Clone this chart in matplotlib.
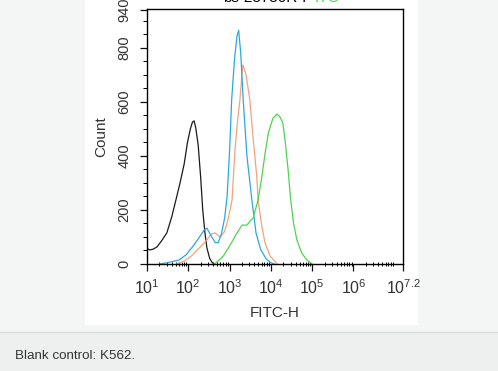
import numpy as np
import matplotlib
matplotlib.use("Agg")
import matplotlib.pyplot as plt
from matplotlib.patches import Rectangle
from matplotlib.ticker import LogLocator, MultipleLocator, NullFormatter

plt.rcParams['font.family'] = ['Liberation Sans', 'DejaVu Sans']

# histogram outlines: x as log10(FITC-H), y as count
black_logx = [1.0, 1.07, 1.15, 1.24, 1.35, 1.48, 1.6, 1.7, 1.8, 1.9, 1.98, 2.05, 2.1, 2.14, 2.18, 2.24, 2.3, 2.35, 2.4, 2.45, 2.52, 2.58, 2.63]
black_cnt = [57, 52, 55, 63, 85, 115, 175, 237, 300, 370, 450, 500, 525, 530, 505, 440, 320, 200, 120, 60, 20, 5, 0]

blue_logx = [1.3, 1.5, 1.78, 1.95, 2.1, 2.25, 2.38, 2.45, 2.55, 2.65, 2.72, 2.8, 2.88, 2.94, 3.0, 3.05, 3.12, 3.18, 3.22, 3.27, 3.33, 3.42, 3.54, 3.64, 3.75, 3.88, 4.0, 4.08]
blue_cnt = [0, 5, 15, 35, 63, 95, 125, 133, 105, 80, 78, 110, 170, 250, 420, 607, 760, 845, 865, 780, 607, 400, 237, 115, 55, 20, 5, 0]

orange_logx = [1.72, 1.9, 2.1, 2.3, 2.45, 2.55, 2.65, 2.77, 2.88, 2.96, 3.06, 3.13, 3.2, 3.25, 3.32, 3.4, 3.49, 3.58, 3.66, 3.69, 3.78, 3.86, 3.98, 4.15]
orange_cnt = [0, 10, 33, 65, 89, 110, 115, 100, 120, 163, 237, 422, 540, 607, 737, 700, 607, 450, 322, 237, 140, 78, 30, 0]

green_logx = [2.63, 2.75, 2.85, 2.94, 3.05, 3.18, 3.3, 3.42, 3.5, 3.57, 3.69, 3.78, 3.86, 3.94, 4.05, 4.15, 4.22, 4.29, 4.35, 4.41, 4.48, 4.55, 4.63, 4.75, 4.87, 5.0]
green_cnt = [0, 15, 30, 52, 80, 115, 144, 144, 160, 170, 237, 322, 410, 485, 540, 555, 545, 522, 450, 360, 237, 150, 89, 40, 15, 0]

ytick_vals = [0, 200, 400, 600, 800, 940]
xtick_exp = [1, 2, 3, 4, 5, 6, 7.2]
xtick_labels = [r'$10^{1}$', r'$10^{2}$', r'$10^{3}$', r'$10^{4}$', r'$10^{5}$', r'$10^{6}$', r'$10^{7.2}$']

fig = plt.figure(figsize=(4.98, 3.71), dpi=100)
fig.patch.set_facecolor('#f4f6f6')
plt.rcParams['mathtext.fontset'] = 'custom'
plt.rcParams['mathtext.rm'] = 'Liberation Sans'
plt.rcParams['mathtext.it'] = 'Liberation Sans'

# white panel and caption band
fig.add_artist(Rectangle((85/498, 1-325/371), 333/498, 325/371, transform=fig.transFigure,
                         facecolor='white', edgecolor='none', zorder=0))
fig.add_artist(Rectangle((0, 0), 1, 39/371, transform=fig.transFigure,
                         facecolor='#eef0ef', edgecolor='none', zorder=0))
fig.add_artist(plt.Line2D([0, 1], [39/371, 39/371], transform=fig.transFigure,
                          color='#dadcdc', lw=1, zorder=1))
fig.text(15/498, 1-356/371, 'Blank control: K562.', fontsize=9.6, color='#333333', va='center')

# title, cut off by the top edge as in the source
fig.text(312/498, 1-2/371, 'bs-23730R-F', fontsize=11, color='black', ha='right', va='baseline')
fig.text(315/498, 1-2/371, 'ITC', fontsize=11, color='#44dd44', ha='left', va='baseline')

ax = fig.add_axes([147/498, 1-264/371, 256/498, 255/371])
ax.plot(10**np.array(black_logx), black_cnt, color='#1a1a1a', lw=0.9)
ax.plot(10**np.array(orange_logx), orange_cnt, color='#f2a27e', lw=0.9)
ax.plot(10**np.array(blue_logx), blue_cnt, color='#2aa9dc', lw=0.9)
ax.plot(10**np.array(green_logx), green_cnt, color='#4fd44f', lw=0.9)

ax.set_xscale('log')
ax.set_xlim(10**1, 10**7.2)
ax.set_ylim(0, 944)
ax.set_xticks([10**e for e in xtick_exp])
ax.set_xticklabels(xtick_labels, fontsize=11.5)
ax.xaxis.set_minor_locator(LogLocator(base=10, subs=np.arange(2, 10), numticks=20))
ax.xaxis.set_minor_formatter(NullFormatter())
ax.set_yticks(ytick_vals)
ax.set_yticklabels([str(v) for v in ytick_vals], rotation=90, va='center', fontsize=10.5)
ax.yaxis.set_minor_locator(MultipleLocator(50))
ax.tick_params(axis='both', which='major', direction='out', length=5, width=0.9, colors='#111111')
ax.tick_params(axis='x', which='minor', direction='inout', length=3, width=0.7)
ax.tick_params(axis='y', which='minor', direction='out', length=3, width=0.7)
ax.tick_params(axis='x', which='major', pad=5, labelcolor='#333333')
ax.tick_params(axis='y', which='major', pad=6, labelcolor='#333333')
for s in ax.spines.values():
    s.set_linewidth(1.0)
ax.set_xlabel('FITC-H', fontsize=11, labelpad=7, color='#333333')
ax.set_ylabel('Count', fontsize=11, labelpad=7, color='#333333')

fig.savefig('out.png', dpi=100, facecolor=fig.get_facecolor())
